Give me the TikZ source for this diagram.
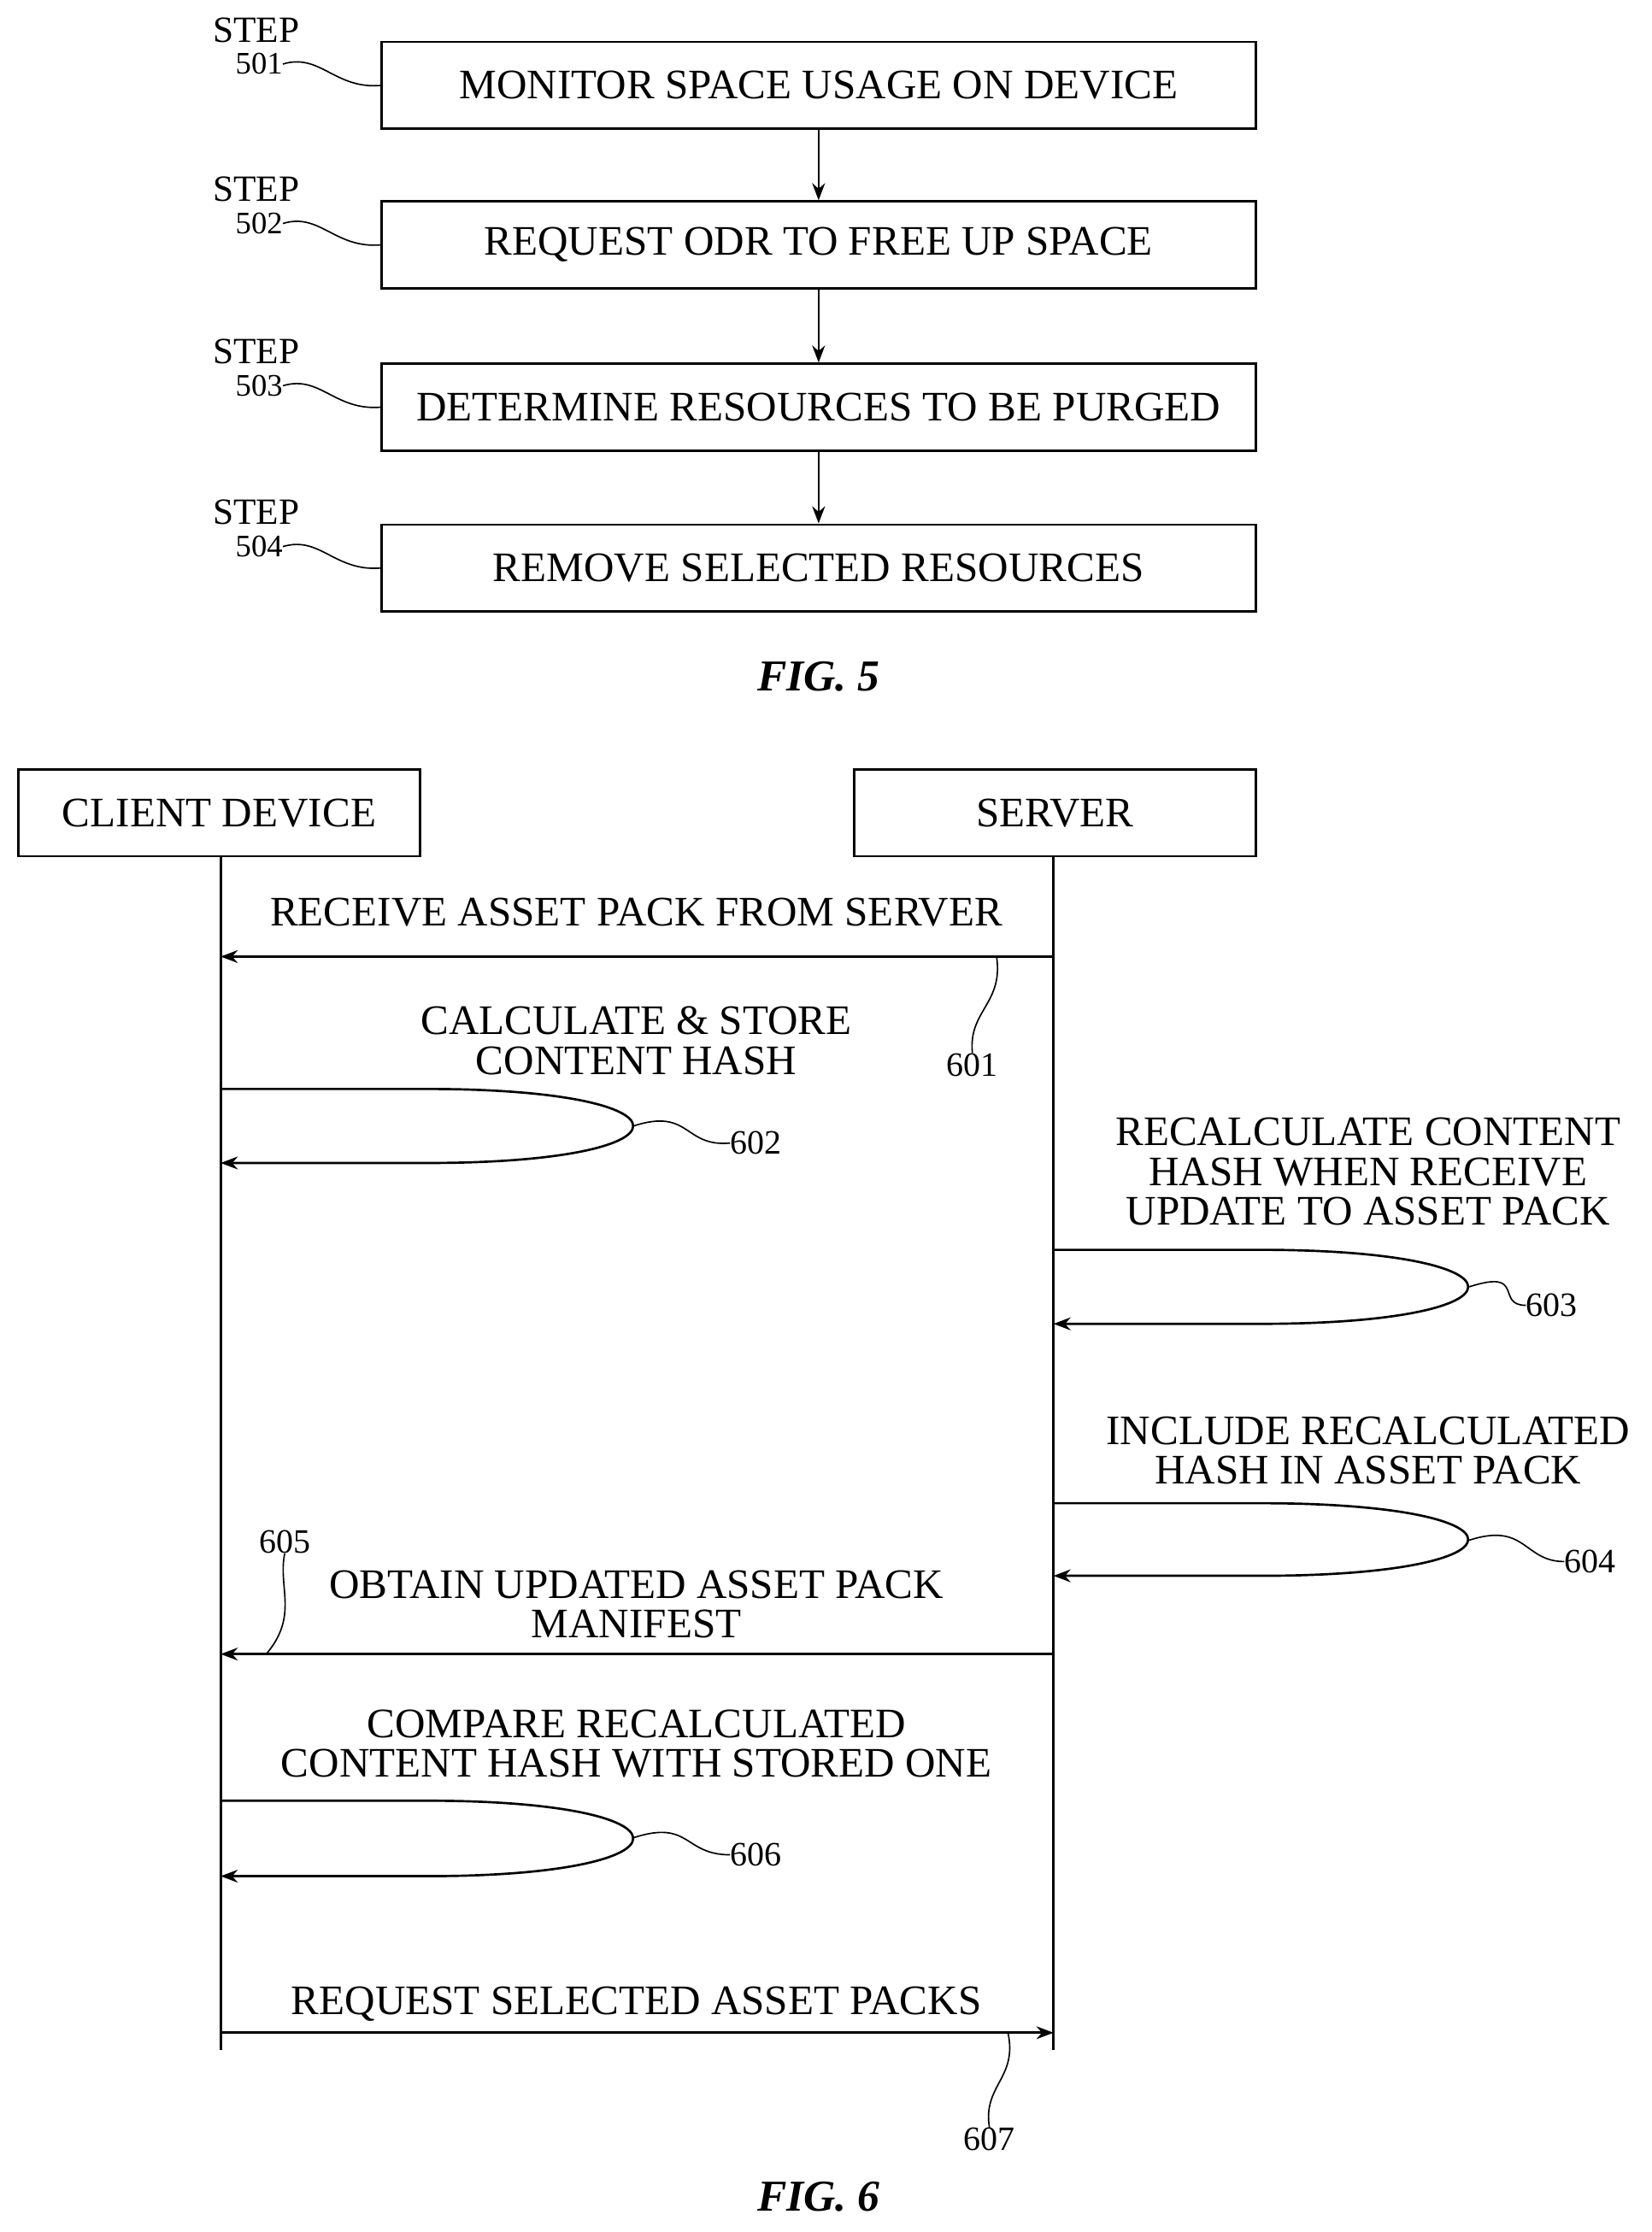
\documentclass[tikz,border=0pt]{standalone}
\usepackage{fontspec}
\setmainfont{Liberation Serif}
\usetikzlibrary{positioning}
\usetikzlibrary{arrows.meta}

\tikzset{
  box/.style={draw, line width=1.6pt, minimum height=61pt, inner sep=0pt, font=\fontsize{29.5}{31}\selectfont},
  txt/.style={font=\fontsize{29.5}{28}\selectfont, align=center, inner sep=0pt},
  num/.style={font=\fontsize{24}{24}\selectfont, align=center, inner sep=0pt},
  msg/.style={line width=1.6pt, -{Stealth[length=12pt,width=9pt]}},
  lead/.style={line width=1pt},
  fig/.style={font=\fontsize{31}{31}\selectfont\bfseries\itshape}
}

\begin{document}
\begin{tikzpicture}[x=1pt,y=-1pt]
\useasboundingbox (0,0) rectangle (1160,1568);
%fig 5 boxes
\node[box, minimum width=614pt] (s1) at (575,60) {MONITOR SPACE USAGE ON DEVICE};
\node[box, minimum width=614pt] (s2) at (575,172) {REQUEST ODR TO FREE UP SPACE};
\node[box, minimum width=614pt] (s3) at (575,286) {DETERMINE RESOURCES TO BE PURGED};
\node[box, minimum width=614pt] (s4) at (575,399) {REMOVE SELECTED RESOURCES};
\draw[msg] (s1) -- (s2);
\draw[msg] (s2) -- (s3);
\draw[msg] (s3) -- (s4);
%step labels
\foreach \n/\y in {501/45, 502/157, 503/271, 504/384}{
  \node[num, font=\fontsize{26}{26}\selectfont] at (180,\y-24) {STEP};
  \node[num, font=\fontsize{22}{22}\selectfont] (l\n) at (182,\y) {\n};
  \draw[lead] (l\n.east) .. controls (225,\y-8) and (235,\y+18) .. (268,\y+15);
}
\node[fig] (f5) at (575,475) {FIG. 5};
%fig 6 heads
\node[box, minimum width=282pt] (cl) at (154,571) {CLIENT DEVICE};
\node[box, minimum width=282pt] (sv) at (741,571) {SERVER};
\coordinate (clb) at (155,1440);
\coordinate (svb) at (740,1440);
\draw[line width=1.6pt] (cl.south -| clb) -- (clb);
\draw[line width=1.6pt] (sv.south -| svb) -- (svb);
%messages
\coordinate (m1a) at (740,672); \coordinate (m1b) at (155,672);
\draw[msg] (m1a) -- (m1b);
\node[txt] (t1) at (447,641) {RECEIVE ASSET PACK FROM SERVER};
\node[num] (n601) at (683,748) {601};
\draw[lead] (700,672) .. controls (705,705) and (680,710) .. (n601.north);
%602
\coordinate (c2a) at (155,765); \coordinate (c2b) at (155,817);
\draw[msg] (c2a) -- (300,765) .. controls (493,765) and (493,817) .. (300,817) -- (c2b);
\node[txt] (t2) at (447,731) {CALCULATE \& STORE\\CONTENT HASH};
\node[num] (n602) at (531,803) {602};
\draw[lead] (445,791) .. controls (485,778) and (480,806) .. (n602.west);
%603
\coordinate (c3a) at (740,878); \coordinate (c3b) at (740,930);
\draw[msg] (c3a) -- (885,878) .. controls (1080,878) and (1080,930) .. (885,930) -- (c3b);
\node[txt] (t3) at (961,823) {RECALCULATE CONTENT\\HASH WHEN RECEIVE\\UPDATE TO ASSET PACK};
\node[num] (n603) at (1090,917) {603};
\draw[lead] (1032,904) .. controls (1072,891) and (1050,917) .. (n603.west);
%604
\coordinate (c4a) at (740,1056); \coordinate (c4b) at (740,1107);
\draw[msg] (c4a) -- (885,1056) .. controls (1080,1056) and (1080,1107) .. (885,1107) -- (c4b);
\node[txt] (t4) at (961,1019) {INCLUDE RECALCULATED\\HASH IN ASSET PACK};
\node[num] (n604) at (1117,1097) {604};
\draw[lead] (1032,1082) .. controls (1072,1069) and (1070,1097) .. (n604.west);
%605
\coordinate (m5a) at (740,1162); \coordinate (m5b) at (155,1162);
\draw[msg] (m5a) -- (m5b);
\node[txt] (t5) at (447,1127) {OBTAIN UPDATED ASSET PACK\\MANIFEST};
\node[num] (n605) at (200,1083) {605};
\draw[lead] (n605.south) .. controls (195,1115) and (210,1135) .. (187,1162);
%606
\coordinate (c6a) at (155,1265); \coordinate (c6b) at (155,1318);
\draw[msg] (c6a) -- (300,1265) .. controls (493,1265) and (493,1318) .. (300,1318) -- (c6b);
\node[txt] (t6) at (447,1225) {COMPARE RECALCULATED\\CONTENT HASH WITH STORED ONE};
\node[num] (n606) at (531,1303) {606};
\draw[lead] (445,1291) .. controls (485,1278) and (480,1303) .. (n606.west);
%607
\coordinate (m7a) at (155,1428); \coordinate (m7b) at (740,1428);
\draw[msg] (m7a) -- (m7b);
\node[txt] (t7) at (447,1408) {REQUEST SELECTED ASSET PACKS};
\node[num] (n607) at (695,1503) {607};
\draw[lead] (708,1428) .. controls (715,1460) and (690,1465) .. (n607.north);
\node[fig] (f6) at (575,1543) {FIG. 6};
\end{tikzpicture}
\end{document}
